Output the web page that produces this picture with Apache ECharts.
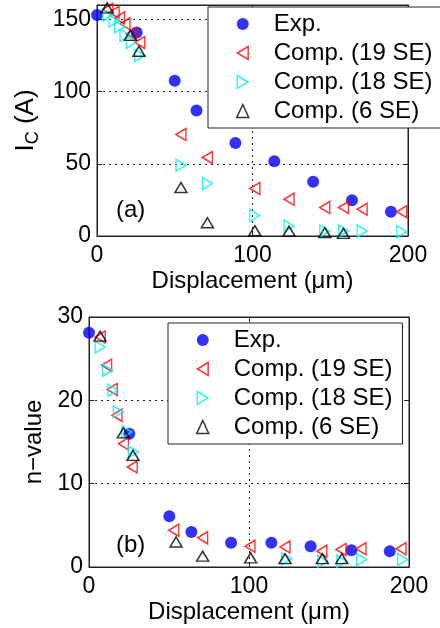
<!DOCTYPE html>
<html>
<head>
<meta charset="utf-8">
<script src="https://cdn.jsdelivr.net/npm/echarts@6/dist/echarts.min.js"></script>
<style>
  html, body { margin: 0; padding: 0; background: #fff; }
  #chart { width: 440px; height: 628px; }
</style>
</head>
<body>
<div id="chart"></div>
<script>
// panel (a): critical current vs displacement
const expAx = [0, 25.5, 50, 64, 89, 114, 139, 164, 189]
const expAy = [153, 141, 107.6, 87, 64.4, 51.7, 37.5, 24.8, 16.8]
const se19Ax = [7, 11, 14.5, 18, 22, 27.5, 54, 71, 101.5, 123.5, 146.5, 158.5, 170.5, 196]
const se19Ay = [157, 155, 151, 147, 140, 134, 70.3, 54.3, 32.9, 25.5, 19.8, 19.8, 18.6, 16.8]
const se18Ax = [7, 11, 14.5, 18, 22, 27.5, 54, 71, 101.5, 123.5, 146.5, 158.5, 170.5, 196]
const se18Ay = [153, 149, 145, 139, 134, 125, 49, 36.3, 14.2, 6.9, 3.4, 3.4, 3.4, 3]
const se6Ax = [6.5, 21.5, 27, 54, 71, 101.5, 123.5, 146.5, 158.5]
const se6Ay = [158, 139, 128, 33.6, 9.2, 3.7, 3.4, 2.3, 1.8]

// panel (b): n-value vs displacement
const expBx = [0, 25.2, 50.2, 64, 88.8, 114, 138.5, 164, 188]
const expBy = [28.1, 16.0, 6.1, 4.2, 2.9, 2.9, 2.5, 2.0, 1.9]
const se19Bx = [7, 11, 14.5, 17.5, 21.5, 27, 53, 71, 100.6, 122.5, 145.5, 157.5, 170, 195]
const se19By = [27.6, 24.2, 21.3, 18.2, 14.8, 12.0, 4.4, 3.5, 2.5, 2.4, 1.9, 2.1, 2.2, 2.2]
const se18Bx = [7, 11.5, 15, 18.3, 23.6, 27.7, 123.5, 146, 158, 170.4, 196]
const se18By = [26.4, 23.6, 21.2, 18.6, 16.2, 13.8, 1.0, 0.7, 0.7, 0.9, 0.9]
const se6Bx = [6.9, 21.5, 27.5, 54.4, 71, 101, 122.5, 145.8, 158]
const se6By = [27.7, 16.1, 13.4, 3.0, 1.3, 1.1, 1.0, 1.0, 1.0]

const seriesNames = ['Exp.', 'Comp. (19 SE)', 'Comp. (18 SE)', 'Comp. (6 SE)']
const xRange = [0, 200, 100]
const yRangeA = [0, 160, 50]
const yRangeB = [0, 30, 10]

const FONT = "'Liberation Sans', Arial, sans-serif"
const zip = (xs, ys) => xs.map((x, i) => [x, ys[i]])

const dotted = { color: '#222', width: 1, type: [2, 4] }
const frame = { color: '#222', width: 1 }

function mainX(grid, name, nameGap) {
  return {
    gridIndex: grid, type: 'value', min: xRange[0], max: xRange[1], interval: xRange[2],
    name: name, nameLocation: 'middle', nameGap: nameGap,
    nameTextStyle: { fontSize: 24, color: '#000', fontFamily: FONT },
    axisLine: { show: true, onZero: false, lineStyle: frame },
    axisTick: { show: true, inside: true, length: 5, lineStyle: { color: '#222' } },
    axisLabel: { fontSize: 23, color: '#000', margin: 8, fontFamily: FONT },
    splitLine: { show: true, showMinLine: false, showMaxLine: false, lineStyle: dotted }
  }
}
function mainY(grid, r, name, nameGap) {
  return {
    gridIndex: grid, type: 'value', min: r[0], max: r[1], interval: r[2],
    name: name, nameLocation: 'middle', nameGap: nameGap,
    nameTextStyle: {
      fontSize: 24, color: '#000', fontFamily: FONT,
      rich: {
        m: { fontSize: 26, fontFamily: FONT, color: '#000' },
        s: { fontSize: 18, fontFamily: FONT, color: '#000', padding: [13, 0, 0, 0] }
      }
    },
    axisLine: { show: true, onZero: false, lineStyle: frame },
    axisTick: { show: true, inside: true, length: 5, lineStyle: { color: '#222' } },
    axisLabel: { fontSize: 23, color: '#000', margin: 6, fontFamily: FONT, showMaxLabel: r[1] % r[2] === 0 },
    splitLine: { show: true, showMinLine: false, showMaxLine: false, lineStyle: dotted }
  }
}
function mirrorX(grid) {
  return {
    gridIndex: grid, type: 'value', position: 'top', min: xRange[0], max: xRange[1], interval: xRange[2],
    axisLine: { show: true, onZero: false, lineStyle: frame },
    axisTick: { show: true, inside: true, length: 5, lineStyle: { color: '#222' } },
    axisLabel: { show: false }, splitLine: { show: false }
  }
}
function mirrorY(grid, r) {
  return {
    gridIndex: grid, type: 'value', position: 'right', min: r[0], max: r[1], interval: r[2],
    axisLine: { show: true, onZero: false, lineStyle: frame },
    axisTick: { show: true, inside: true, length: 5, lineStyle: { color: '#222' } },
    axisLabel: { show: false }, splitLine: { show: false }
  }
}

// left / right pointing triangles as paths so the legend shows them the same way
const leftTri = 'path://M10,0L0,6L10,12Z'
const rightTri = 'path://M0,0L10,6L0,12Z'

const styles = [
  { symbol: 'circle', symbolSize: 12, itemStyle: { color: '#0000f5' } },
  { symbol: leftTri, symbolSize: [10, 12],
    itemStyle: { color: 'rgba(0,0,0,0)', borderColor: '#ff0000', borderWidth: 1.5 } },
  { symbol: rightTri, symbolSize: [10, 12],
    itemStyle: { color: 'rgba(0,0,0,0)', borderColor: '#00f2f2', borderWidth: 1.5 } },
  { symbol: 'triangle', symbolSize: [12, 10],
    itemStyle: { color: 'rgba(0,0,0,0)', borderColor: '#000', borderWidth: 1.5 } }
]

function makeSeries(xi, yi, sets) {
  return sets.map((d, i) => Object.assign({
    name: seriesNames[i], type: 'scatter', xAxisIndex: xi, yAxisIndex: yi,
    data: d, emphasis: { disabled: true }
  }, styles[i]))
}

function makeLegend(left, top) {
  return {
    data: seriesNames, orient: 'vertical', left: left, top: top,
    selectedMode: false, backgroundColor: '#fff', borderColor: '#222', borderWidth: 1,
    padding: [5, 10, 5, 28], itemWidth: 12, itemHeight: 13, itemGap: 5,
    itemStyle: { borderWidth: 1.5 },
    textStyle: { fontSize: 24, color: '#000', fontFamily: FONT, padding: [0, 0, 0, 20] }
  }
}

const chart = echarts.init(document.getElementById('chart'), null, { renderer: 'canvas' })

chart.setOption({
  animation: false,
  backgroundColor: '#fff',
  textStyle: { fontFamily: FONT },
  grid: [
    { left: 97, top: 5, width: 311, height: 231, show: true, borderColor: '#222', borderWidth: 1, outerBoundsMode: 'none' },
    { left: 89, top: 317, width: 320, height: 250, show: true, borderColor: '#222', borderWidth: 1, outerBoundsMode: 'none' }
  ],
  xAxis: [
    mainX(0, 'Displacement (μm)', 33), mirrorX(0),
    mainX(1, 'Displacement (μm)', 33), mirrorX(1)
  ],
  yAxis: [
    mainY(0, yRangeA, '{m|I}{s|C}{m| (A)}', 45), mirrorY(0, yRangeA),
    mainY(1, yRangeB, 'n−value', 39), mirrorY(1, yRangeB)
  ],
  legend: [makeLegend(208, 7), makeLegend(168, 323)],
  graphic: [
    { type: 'text', left: 116, top: 198, style: { text: '(a)', fill: '#000', font: '24px ' + FONT } },
    { type: 'text', left: 116, top: 533, style: { text: '(b)', fill: '#000', font: '24px ' + FONT } }
  ],
  series: [
    ...makeSeries(0, 0, [zip(expAx, expAy), zip(se19Ax, se19Ay), zip(se18Ax, se18Ay), zip(se6Ax, se6Ay)]),
    ...makeSeries(2, 2, [zip(expBx, expBy), zip(se19Bx, se19By), zip(se18Bx, se18By), zip(se6Bx, se6By)])
  ]
})
</script>
</body>
</html>
